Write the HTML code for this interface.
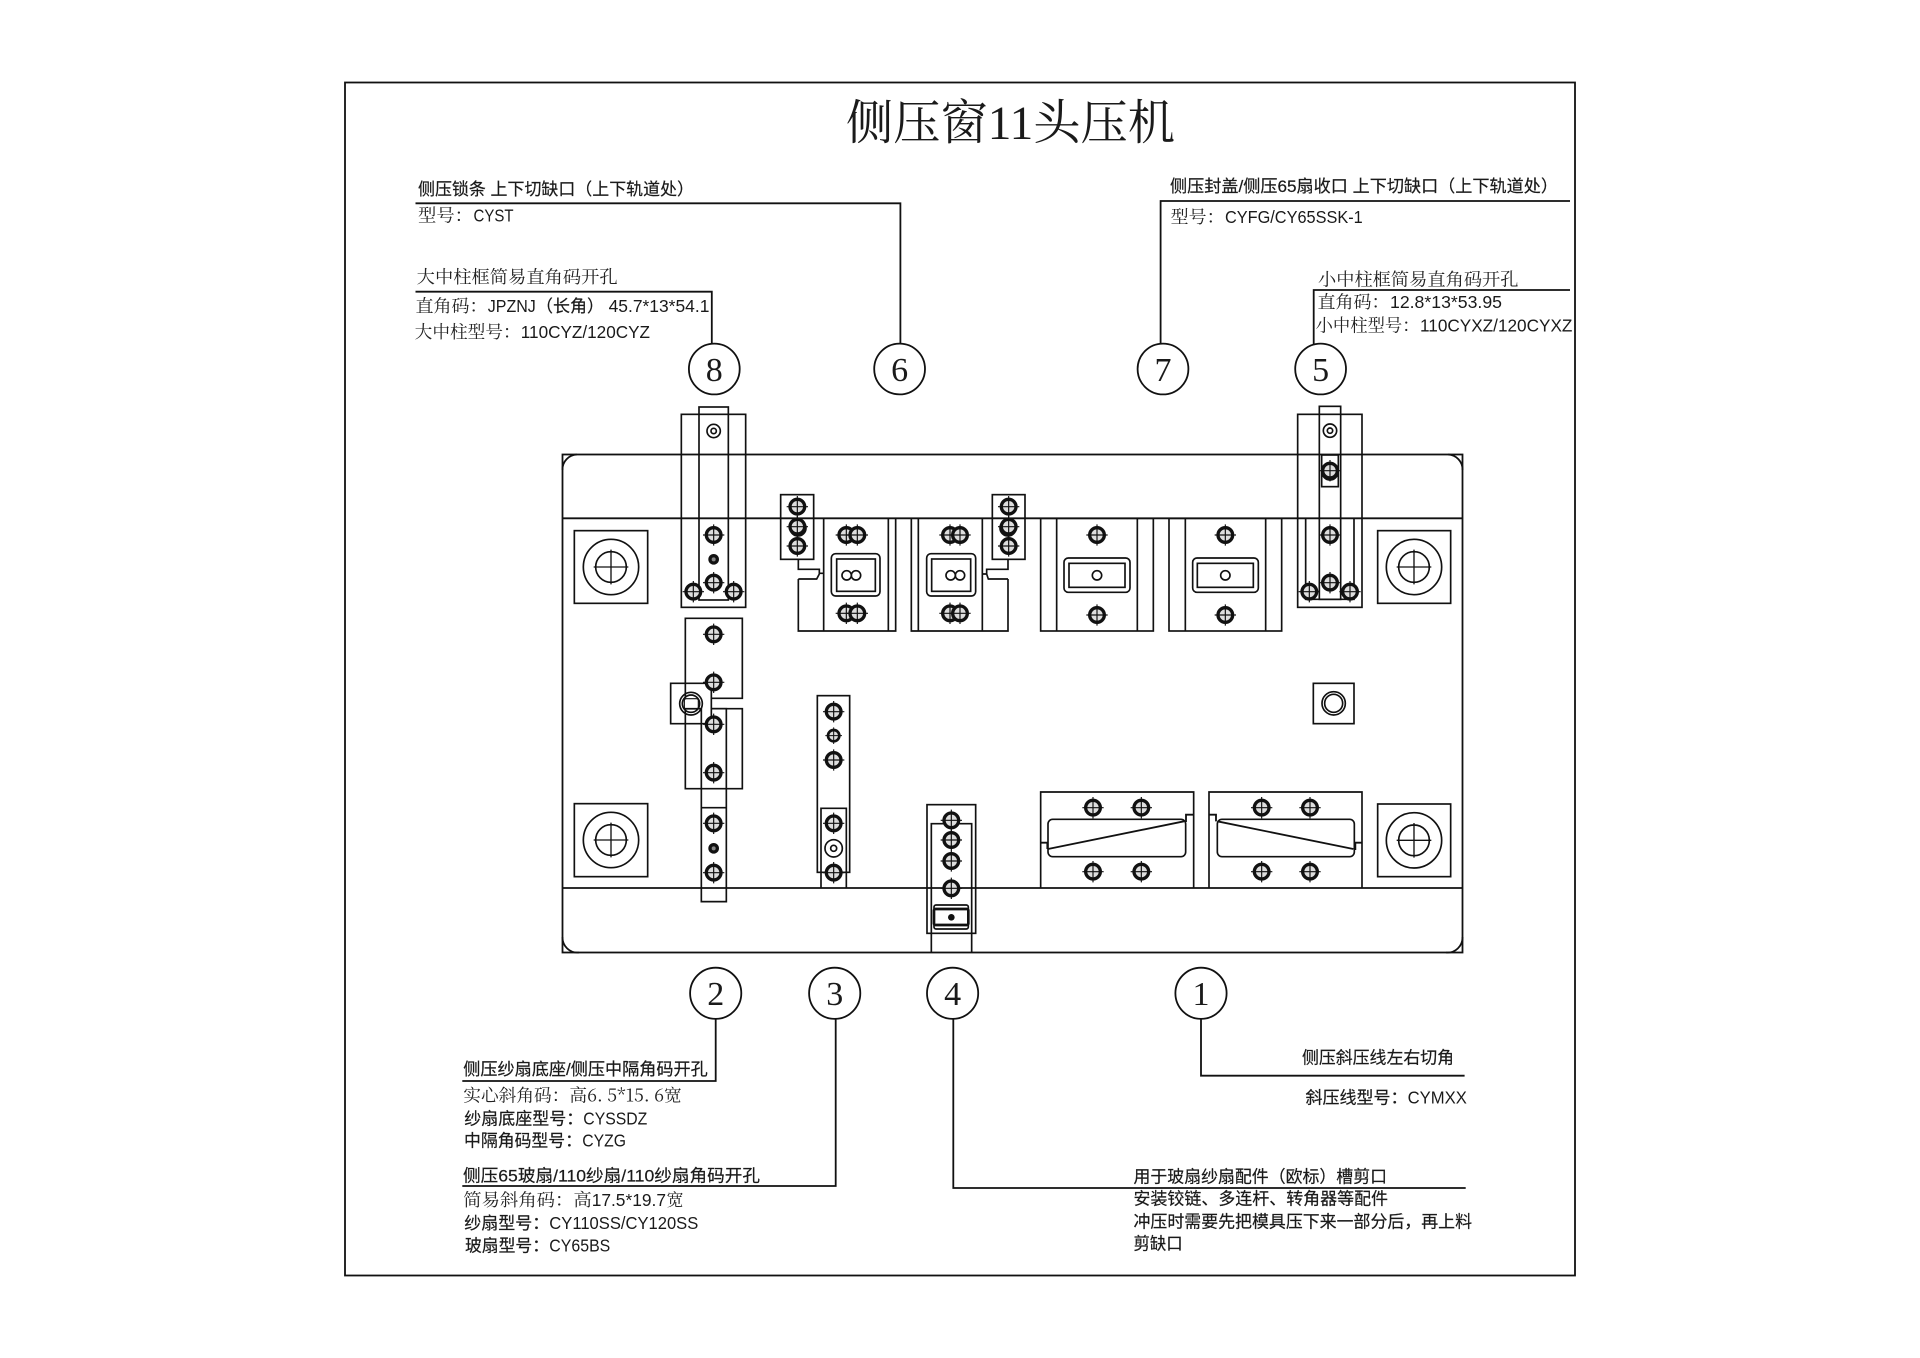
<!DOCTYPE html>
<html lang="zh">
<head>
<meta charset="utf-8">
<title>侧压窗11头压机</title>
<style>
html,body{margin:0;padding:0;background:#fff;width:1920px;height:1358px;overflow:hidden}
svg{display:block}
text{fill:#1a1a1a}
.b{font-family:"Liberation Sans","Noto Sans CJK SC",sans-serif;font-size:17px;stroke:#1a1a1a;stroke-width:.2}
.s{font-family:"Liberation Sans","Noto Serif CJK SC",serif;font-size:17.5px;fill:#222}
.a{font-family:"Liberation Sans",sans-serif;font-size:17.5px;fill:#1a1a1a}
.n{font-family:"Liberation Serif","Noto Serif CJK SC",serif;font-size:34px;text-anchor:middle}
.t{font-family:"Liberation Serif","Noto Serif CJK SC",serif;font-size:48px}
.l{fill:none;stroke:#111;stroke-width:1.8}
.z{fill:none;stroke:#111;stroke-width:5}
</style>
</head>
<body>
<svg width="1920" height="1358" viewBox="0 0 1920 1358" xmlns="http://www.w3.org/2000/svg">
<defs>
<g id="s"><circle r="22" fill="#ddd" stroke-width="10"/><path d="M-32 0H32M0-32V32" stroke-width="3.5"/></g>
<g id="m"><circle r="17" fill="#ddd" stroke-width="8"/><path d="M-25 0H25M0-25V25" stroke-width="3"/></g>
<g id="d"><circle r="11" fill="#888" stroke-width="10"/></g>
<g id="p"><circle r="83" fill="none"/><circle r="46" fill="none"/><path d="M-52 0H52M0-52V52" stroke-width="4"/></g>
</defs>

<rect x="345" y="82.5" width="1230" height="1193" class="l"/>

<text class="t" x="846" y="139" textLength="329" lengthAdjust="spacingAndGlyphs">侧压窗11头压机</text>

<!-- plate -->
<rect x="562.5" y="454.5" width="900" height="498" class="l"/>
<path class="l" d="M562.5 518.3H1462.5M562.5 888H1462.5"/>
<path class="l" d="M562.5 470A15 15 0 0 1 577 454.5M1448 454.5A15 15 0 0 1 1462.5 470M562.5 937A15 15 0 0 0 579 952.5M1446 952.5A15 15 0 0 0 1462.5 937"/>

<!-- leaders -->
<path class="l" d="M415.5 203.3H900.4V344M415.5 291.7H711.8V344M1570 201H1160.6V344M1570 290H1313.7V344"/>
<path class="l" d="M462.3 1081H715.7V1019M462.3 1186H835.7V1019M1465.7 1188H953.3V1019M1464.6 1075.7H1201V1019"/>

<!-- balloons -->
<g class="l">
<circle cx="714.3" cy="369" r="25.4"/><circle cx="899.6" cy="369" r="25.4"/><circle cx="1163" cy="369" r="25.4"/><circle cx="1320.6" cy="369" r="25.4"/>
<circle cx="715.7" cy="993.3" r="25.6"/><circle cx="834.7" cy="993.3" r="25.6"/><circle cx="952.6" cy="993.3" r="25.6"/><circle cx="1201" cy="993.3" r="25.6"/>
</g>
<text class="n" x="714.3" y="381">8</text>
<text class="n" x="899.6" y="381">6</text>
<text class="n" x="1163" y="381">7</text>
<text class="n" x="1320.6" y="381">5</text>
<text class="n" x="715.7" y="1005">2</text>
<text class="n" x="834.7" y="1005">3</text>
<text class="n" x="952.6" y="1005">4</text>
<text class="n" x="1201" y="1005">1</text>

<!-- upper left zone -->
<g transform="translate(550 400) scale(.33333)" class="z">
<rect x="73" y="392" width="220" height="218"/>
<use href="#p" x="183" y="501"/>
<rect x="394" y="43" width="193" height="579"/>
<rect x="447" y="21" width="88" height="579"/>
<circle cx="491" cy="93" r="20"/><circle cx="491" cy="93" r="8"/>
<use href="#s" x="491" y="405"/><use href="#d" x="491" y="478"/><use href="#s" x="491" y="548"/>
<use href="#s" x="430" y="575"/><use href="#s" x="551" y="575"/>

<rect x="692" y="284" width="99" height="194"/>
<rect x="1327" y="284" width="98" height="194"/>
<path d="M745 478V508H808V520H821M745 537H800L808 522M745 537V693H1037V355M821 355V693M1015 355V693"/>
<path d="M1374 478V508H1310V522H1297M1374 537H1315L1310 522M1374 537V693H1084V355M1105 355V693M1297 355V693"/>
<use href="#s" x="742" y="320"/><use href="#s" x="742" y="380"/><circle cx="744" cy="384" r="24"/><use href="#s" x="742" y="438"/>
<use href="#s" x="1376" y="320"/><use href="#s" x="1376" y="380"/><circle cx="1374" cy="384" r="24"/><use href="#s" x="1376" y="438"/>

<use href="#s" x="889" y="405"/><use href="#s" x="922" y="405"/><use href="#s" x="889" y="640"/><use href="#s" x="922" y="640"/>
<use href="#s" x="1200" y="405"/><use href="#s" x="1230" y="405"/><use href="#s" x="1200" y="640"/><use href="#s" x="1230" y="640"/>
<rect x="844" y="461" width="146" height="127" rx="13"/><rect x="860" y="477" width="116" height="97"/>
<circle cx="890" cy="526" r="14"/><circle cx="918" cy="526" r="14"/>
<rect x="1130" y="461" width="147" height="127" rx="13"/><rect x="1145" y="477" width="117" height="97"/>
<circle cx="1202" cy="526" r="14"/><circle cx="1230" cy="526" r="14"/>
</g>

<!-- upper right zone -->
<g transform="translate(1010 400) scale(.33333)" class="z">
<rect x="92" y="355" width="338" height="338"/><path d="M140 355V693M382 355V693"/>
<rect x="162" y="474" width="198" height="103" rx="13"/><rect x="177" y="490" width="168" height="72"/>
<circle cx="261" cy="526" r="14"/><use href="#s" x="261" y="405"/><use href="#s" x="261" y="645"/>
<rect x="477" y="355" width="338" height="338"/><path d="M526 355V693M767 355V693"/>
<rect x="548" y="474" width="197" height="103" rx="13"/><rect x="562" y="490" width="168" height="72"/>
<circle cx="646" cy="526" r="14"/><use href="#s" x="646" y="405"/><use href="#s" x="646" y="645"/>

<rect x="863" y="43" width="193" height="579"/>
<rect x="928" y="19" width="64" height="579"/>
<path d="M887 355V598H1032V355"/>
<rect x="935" y="165" width="50" height="95"/>
<circle cx="960" cy="92" r="20"/><circle cx="960" cy="92" r="8"/>
<use href="#s" x="960" y="212"/><circle cx="960" cy="216" r="24"/>
<use href="#s" x="960" y="405"/><use href="#s" x="960" y="548"/><use href="#s" x="898" y="575"/><use href="#s" x="1020" y="575"/>
<rect x="1103" y="392" width="219" height="218"/>
<use href="#p" x="1212" y="501"/>
</g>

<!-- lower left zone -->
<g transform="translate(550 610) scale(.33333)" class="z">
<rect x="73" y="581" width="220" height="219"/>
<use href="#p" x="183" y="690"/>
<path d="M406 265V25H577V265H484M484 296H577V536H406V296H454"/>
<path d="M484 220H362V341H484V220"/>
<circle cx="423" cy="281" r="34"/><circle cx="423" cy="281" r="26"/><rect x="403" y="266" width="42" height="31" rx="6" stroke-width="3.5"/>
<path d="M454 296V875H529V296H484M454 593H529"/><path d="M454 875H529"/>
<use href="#s" x="491" y="73"/><use href="#s" x="491" y="217"/><use href="#s" x="491" y="343"/><use href="#s" x="491" y="488"/>
<use href="#s" x="491" y="640"/><use href="#d" x="491" y="715"/><use href="#s" x="491" y="788"/>

<rect x="802" y="257" width="97" height="530"/>
<path d="M813 834V595H889V834"/>
<use href="#s" x="851" y="305"/><use href="#m" x="851" y="377"/><use href="#s" x="851" y="450"/>
<use href="#s" x="851" y="640"/><circle cx="851" cy="715" r="26"/><circle cx="851" cy="715" r="9"/><use href="#s" x="851" y="788"/>

<rect x="1131" y="584" width="146" height="386"/>
<path d="M1144 1028V641H1265V1028"/>
<use href="#s" x="1204" y="631"/><use href="#s" x="1204" y="690"/><use href="#s" x="1204" y="753"/><use href="#s" x="1204" y="835"/>
<rect x="1152" y="885" width="103" height="72" rx="6"/><rect x="1152" y="897" width="103" height="48" rx="4" stroke-width="8"/>
<circle cx="1204" cy="922" r="10" fill="#111" stroke="none"/>
</g>

<!-- lower right zone -->
<g transform="translate(1010 660) scale(.33333)" class="z">
<rect x="910" y="70" width="122" height="121"/>
<circle cx="971" cy="130" r="35"/><circle cx="971" cy="130" r="27"/>
<rect x="1103" y="432" width="219" height="218"/>
<use href="#p" x="1212" y="541"/>

<path d="M92 685V396H551V685"/>
<use href="#s" x="249" y="443"/><use href="#s" x="394" y="443"/><use href="#s" x="249" y="635"/><use href="#s" x="394" y="635"/>
<rect x="114" y="478" width="413" height="112" rx="14"/>
<path d="M114 567L522 484M92 548H112V567M551 464H528V486" stroke-width="5.5"/>

<path d="M597 685V396H1056V685"/>
<use href="#s" x="755" y="443"/><use href="#s" x="900" y="443"/><use href="#s" x="755" y="635"/><use href="#s" x="900" y="635"/>
<rect x="622" y="478" width="411" height="112" rx="14"/>
<path d="M622 484L1030 567M597 464H618V484M1056 548H1036V570" stroke-width="5.5"/>
</g>

<!-- top labels -->
<text class="b" x="418" y="195" textLength="276" lengthAdjust="spacingAndGlyphs">侧压锁条 上下切缺口（上下轨道处）</text>
<text class="s" x="418" y="221.5" textLength="55" lengthAdjust="spacingAndGlyphs">型号：</text><text class="a" x="473.5" y="221.5" textLength="40" lengthAdjust="spacingAndGlyphs">CYST</text>
<text class="s" x="416.7" y="283" textLength="201" lengthAdjust="spacingAndGlyphs">大中柱框简易直角码开孔</text>
<text class="s" x="415.5" y="312" textLength="72" lengthAdjust="spacingAndGlyphs">直角码：</text><text class="a" x="487.8" y="312" textLength="48" lengthAdjust="spacingAndGlyphs">JPZNJ</text><text class="b" x="536" y="312" textLength="68" lengthAdjust="spacingAndGlyphs">（长角）</text><text class="a" x="608.6" y="312" textLength="100.8" lengthAdjust="spacingAndGlyphs">45.7*13*54.1</text>
<text class="s" x="414.7" y="338" textLength="106" lengthAdjust="spacingAndGlyphs">大中柱型号：</text><text class="a" x="520.8" y="338" textLength="129.2" lengthAdjust="spacingAndGlyphs">110CYZ/120CYZ</text>
<text class="b" x="1170" y="192" textLength="388" lengthAdjust="spacingAndGlyphs">侧压封盖/侧压65扇收口 上下切缺口（上下轨道处）</text>
<text class="s" x="1170.6" y="223" textLength="54" lengthAdjust="spacingAndGlyphs">型号：</text><text class="a" x="1225" y="223" textLength="137.7" lengthAdjust="spacingAndGlyphs">CYFG/CY65SSK-1</text>
<text class="s" x="1318" y="285.7" textLength="200.5" lengthAdjust="spacingAndGlyphs">小中柱框简易直角码开孔</text>
<text class="s" x="1317.5" y="308" textLength="72" lengthAdjust="spacingAndGlyphs">直角码：</text><text class="a" x="1390" y="308" textLength="112" lengthAdjust="spacingAndGlyphs">12.8*13*53.95</text>
<text class="s" x="1315.6" y="331.7" textLength="104" lengthAdjust="spacingAndGlyphs">小中柱型号：</text><text class="a" x="1420" y="331.7" textLength="152.4" lengthAdjust="spacingAndGlyphs">110CYXZ/120CYXZ</text>

<!-- bottom labels -->
<text class="b" x="463.3" y="1075" textLength="244.4" lengthAdjust="spacingAndGlyphs">侧压纱扇底座/侧压中隔角码开孔</text>
<text class="s" x="463.3" y="1101.7" textLength="218.4" lengthAdjust="spacingAndGlyphs" style="font-family:'Noto Serif CJK SC',serif">实心斜角码：高6. 5*15. 6宽</text>
<text class="b" x="464.3" y="1124.3" textLength="119" lengthAdjust="spacingAndGlyphs">纱扇底座型号：</text><text class="a" x="583.3" y="1124.3" textLength="64" lengthAdjust="spacingAndGlyphs">CYSSDZ</text>
<text class="b" x="464" y="1146.7" textLength="118" lengthAdjust="spacingAndGlyphs">中隔角码型号：</text><text class="a" x="582.3" y="1146.7" textLength="43.7" lengthAdjust="spacingAndGlyphs">CYZG</text>
<text class="b" x="463" y="1181.7" textLength="297" lengthAdjust="spacingAndGlyphs">侧压65玻扇/110纱扇/110纱扇角码开孔</text>
<text class="s" x="463.3" y="1206" textLength="128.4" lengthAdjust="spacingAndGlyphs">简易斜角码：高</text><text class="a" x="591.7" y="1206" textLength="74.3" lengthAdjust="spacingAndGlyphs">17.5*19.7</text><text class="s" x="666.5" y="1206" textLength="17" lengthAdjust="spacingAndGlyphs">宽</text>
<text class="b" x="464.3" y="1229" textLength="85" lengthAdjust="spacingAndGlyphs">纱扇型号：</text><text class="a" x="549.3" y="1229" textLength="149" lengthAdjust="spacingAndGlyphs">CY110SS/CY120SS</text>
<text class="b" x="465" y="1251.7" textLength="84" lengthAdjust="spacingAndGlyphs">玻扇型号：</text><text class="a" x="549.3" y="1251.7" textLength="61" lengthAdjust="spacingAndGlyphs">CY65BS</text>
<text class="b" x="1302" y="1063.3" textLength="152" lengthAdjust="spacingAndGlyphs">侧压斜压线左右切角</text>
<text class="b" x="1305.5" y="1103.3" textLength="102" lengthAdjust="spacingAndGlyphs">斜压线型号：</text><text class="a" x="1407.6" y="1103.3" textLength="59.2" lengthAdjust="spacingAndGlyphs">CYMXX</text>
<text class="b" x="1133.5" y="1182.3" textLength="253.5" lengthAdjust="spacingAndGlyphs">用于玻扇纱扇配件（欧标）槽剪口</text>
<text class="b" x="1133.5" y="1204.3" textLength="254.5" lengthAdjust="spacingAndGlyphs">安装铰链、多连杆、转角器等配件</text>
<text class="b" x="1133.5" y="1227.3" textLength="338.5" lengthAdjust="spacingAndGlyphs">冲压时需要先把模具压下来一部分后，再上料</text>
<text class="b" x="1133.5" y="1249.3" textLength="49.2" lengthAdjust="spacingAndGlyphs">剪缺口</text>
</svg>
</body>
</html>
